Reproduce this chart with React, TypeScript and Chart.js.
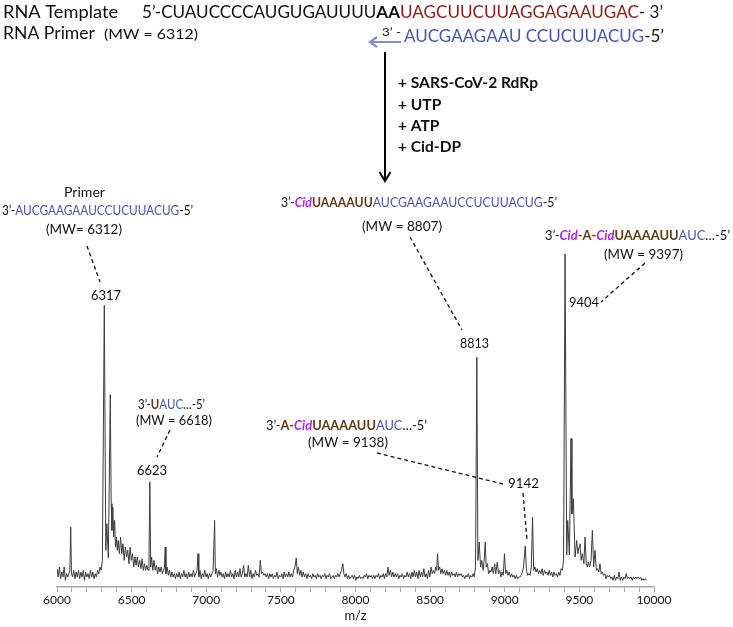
import { useEffect, useRef } from 'react';
import { Chart, registerables } from 'chart.js';
Chart.register(...registerables);

// ---------------- DATA ----------------
// spectrum segments: [m/z, relative intensity %]
const spectrum6000: number[][] = [
  [6000,5.5],[6008,3],[6016,6],[6024,2.5],[6032,4.5],[6040,3],[6048,6],[6056,2],[6064,4],[6072,3],[6080,4],[6086,5],[6092,18],[6097,4],[6104,3],[6112,5],[6120,2.5],[6128,4.5],[6136,3],[6144,5],[6152,2.5],[6160,4.5],[6168,3],[6176,5],[6184,2],[6192,4.5],[6200,3],[6208,4],[6216,2.5],[6224,5],[6232,3],[6240,4.5],[6248,2.5],[6256,4],[6264,3],[6272,5],[6280,4],[6288,6],[6296,5],[6304,8],
];
const spectrumPrimer: number[][] = [
  [6317,84.6],[6327,11],[6334,19],[6344,8.7],[6357,57.8],[6363,25],[6368,17],[6374,24],[6380,15],[6386,20],[6392,12],[6398,15],[6404,11],[6410,14],[6418,10],[6426,15],[6434,10],[6442,13],[6450,8],[6458,12],[6466,9],[6474,11],[6482,7],[6490,12],[6498,8],[6506,10],[6514,6],[6522,9],[6530,6.5],[6538,9],[6546,6],[6554,8],[6562,5.5],[6570,8.5],[6578,5],[6586,7],[6594,5],[6602,6.5],[6610,5],[6616,7],[6622,31.6],[6628,6],[6634,9],[6642,5],[6650,8],[6658,5],[6666,6.5],[6674,4],[6682,6],[6690,4.5],[6698,6],
];
const spectrum6700: number[][] = [
  [6706,4],[6714,5],[6720,6],[6725,12],[6730,4],[6738,6],[6746,3.5],[6754,5],[6762,3],[6770,4.5],[6778,3],[6786,4],[6794,2.5],[6802,4],[6810,3],[6818,4.5],[6826,2.5],[6834,4],[6842,3],[6850,5],[6858,3],[6866,4],[6874,2.5],[6882,4.5],[6890,3],[6898,4],[6906,3],[6914,5],[6922,3],[6930,4],[6938,5],[6945,10],[6950,3],[6958,5],[6966,2.5],[6974,4],[6982,3],[6990,5],[6998,3],[7006,4],[7014,2.5],[7022,4],[7030,3],[7038,4],[7046,5],[7056,20],[7061,4],[7068,5.5],[7076,3],[7084,5],[7092,3.5],[7098,4.5],
];
const spectrum7100: number[][] = [
  [7106,3],[7114,4],[7122,2.5],[7130,4.5],[7138,3],[7146,4],[7154,3],[7162,5],[7170,3],[7178,4],[7186,2.5],[7194,5],[7202,3],[7210,4.5],[7218,3],[7226,5.5],[7234,3],[7242,4],[7250,6.5],[7258,3],[7266,4],[7274,3],[7282,6.5],[7290,3],[7298,5],[7306,2.5],[7314,4],[7322,3],[7330,5],[7338,3.5],[7346,4],[7354,3],[7362,8],[7370,4],[7378,4.5],[7386,3.5],[7394,4],[7402,3],[7410,4],[7418,2.5],[7426,4],[7434,3],[7442,4],[7450,2.5],[7458,3.5],[7466,3],[7474,4.5],[7482,2.5],[7490,3.5],[7498,3],[7506,4],[7514,2.5],[7522,4.5],[7530,3],[7538,4],[7546,3],[7554,4.5],[7562,3],[7570,4],[7578,3],[7586,5],[7594,6],[7603,8.7],[7610,4],[7618,6],[7626,3.5],[7634,5],[7642,3],[7650,4.5],[7658,3],[7666,4],[7674,2.5],[7682,4],[7690,3],[7698,3.5],
];
const spectrum7700: number[][] = [
  [7706,2.5],[7714,4],[7722,3],[7730,3.5],[7738,2.5],[7746,4],[7754,3],[7762,3.5],[7770,2.5],[7778,3.5],[7786,3],[7794,4],[7802,2.5],[7810,3.5],[7818,3],[7826,4],[7834,2.5],[7842,3],[7850,3.5],[7858,2.5],[7866,3.5],[7874,3],[7882,4],[7890,3],[7898,4],[7906,5],[7915,7],[7922,4],[7930,3],[7938,4],[7946,2.5],[7954,3.5],[7962,2.5],[7970,3],[7978,3.5],[7986,2.5],[7994,3.5],[8002,2],[8010,3],[8018,2.5],[8026,3.5],[8034,2.5],[8042,3],[8050,2.5],[8058,3.5],[8066,3],[8074,4],[8082,2.5],[8090,3.5],[8098,3],[8106,3.5],[8114,2.5],[8122,3.5],[8130,2.5],[8138,3.5],[8146,3],[8154,4],[8162,2.5],[8170,3.5],[8178,3],[8186,4],[8194,2.5],[8202,4],[8210,3],[8218,6],[8226,3.5],[8234,5],[8242,3],[8250,4.5],[8258,3],[8266,4],[8274,3],[8282,4],[8290,2.5],[8298,3.5],
];
const spectrum8300: number[][] = [
  [8306,3],[8314,4],[8322,2.5],[8330,3.5],[8338,3],[8346,4.5],[8354,3],[8362,4],[8370,2.5],[8378,4.5],[8386,3],[8394,5],[8402,3],[8410,4.5],[8418,2.5],[8426,5],[8434,3],[8442,4.5],[8450,3],[8458,5.5],[8466,3],[8474,4],[8482,2.5],[8490,5],[8498,3],[8506,6],[8514,4],[8522,5],[8530,4],[8538,6],[8544,5],[8550,10],[8556,5],[8564,6],[8572,4],[8580,5.5],[8588,4],[8596,5],[8604,3.5],[8612,5],[8620,3.5],[8628,4.5],[8636,3],[8644,4.5],[8652,3.5],[8660,4],[8668,3],[8676,4.5],[8684,3],[8692,4],[8700,3.5],[8708,4],[8716,3],[8724,3.5],[8732,2.5],[8740,3.5],[8748,3],[8756,4],[8764,2.5],[8772,3.5],[8780,3],[8788,4],[8796,3],[8804,6],
];
const spectrum8800: number[][] = [
  [8813,69],[8820,8],[8829,13.5],[8838,6],[8846,8],[8855,5],[8862,8],[8869,13.5],[8876,6],[8884,7],[8892,4],[8900,5],[8908,4.5],[8916,6],[8924,4],[8932,7],[8940,4],[8950,7.5],[8958,4],[8966,5],[8974,3],[8982,4.5],[8990,3.5],[8998,10],[9006,4],[9014,5],[9022,3.5],[9030,4.5],[9038,3],[9046,4],[9054,3],[9062,3.5],[9070,2.5],[9078,3.5],[9086,2.5],[9094,3],[9102,3],[9110,3.5],[9118,4.5],[9126,6],[9137,12.3],[9146,5],[9154,3.5],[9162,4],[9170,3.5],[9178,6],[9186,21],[9194,5],[9202,6],[9210,4.5],[9218,5.5],[9226,4],[9234,5],[9242,4],[9250,5.5],[9258,3.5],[9266,5],[9274,4],[9282,4.5],[9290,3.5],[9298,5],[9306,3.5],[9314,4.5],[9322,3],[9330,4.5],[9338,3.5],[9346,4],[9354,3],[9362,4.5],[9370,3.5],[9378,5.5],[9386,5],[9394,8],
];
const spectrum9400: number[][] = [
  [9404,100],[9415,9.6],[9422,20],[9433,9.6],[9444,44.6],[9450,22],[9460,26.5],[9471,9],[9482,14],[9490,10],[9498,12],[9504,13],[9512,8],[9520,10],[9530,7],[9538,15],[9546,7],[9554,6],[9560,7.5],[9568,6],[9578,8],[9587,17],[9596,6],[9605,11],[9614,5],[9622,5.5],[9630,4.5],[9638,7],[9646,4],[9654,4.5],[9662,3.5],[9670,4],[9678,2.5],[9686,3.5],[9694,3],[9702,3.5],[9710,2.5],[9718,3],[9726,2],[9734,3.5],[9742,2],[9750,3],[9758,2.5],[9766,4.5],[9774,2],[9782,3],[9790,2],[9798,3],[9806,2.5],[9814,4],[9822,2.5],[9830,3],[9838,2.5],[9846,3],[9854,2],[9862,3],[9870,2.5],[9878,3],[9886,2.5],[9894,3],[9902,2.5],[9910,3],[9918,2],[9926,2.5],[9934,2],[9942,2.5],[9950,2],
];

const xMin = 6000;
const xMax = 10000;
const majorStep = 500;
const minorStep = 100;

// ---------------- STYLE ----------------
const FONT = 'Lato, "Open Sans", sans-serif';
const BLUE = '#4656b6';
const BROWN = '#5e3c10';
const MAGENTA = '#b020ee';
const RED = '#8e1b1b';
const ARROW_BLUE = '#7d8fd0';

type Run = { t: string; c?: string; b?: boolean; i?: boolean };
type Block = { runs: Run[]; size: number; x0: number; x1: number; y: number };

const Q = '\u2019';

const templateHead: Run[] = [{ t: `5${Q}-CUAUCCCCAUGUGAUUUU` }, { t: 'AA', b: true }];
const templateTail: Run[] = [{ t: 'UAGCUUCUUAGGAGAAUGAC', c: RED }, { t: `- 3${Q}` }];
const primerSeq: Run[] = [{ t: 'AUCGAAGAAU CCUCUUACUG', c: BLUE }, { t: `-5${Q}` }];
const conditions = ['+ SARS-CoV-2 RdRp', '+ UTP', '+ ATP', '+ Cid-DP'];

const blocks: Block[] = [
  { runs: [{ t: 'RNA Template' }], size: 17.5, x0: 3, x1: 118, y: 12 },
  { runs: [{ t: 'RNA Primer' }], size: 17.5, x0: 3, x1: 95, y: 33 },
  { runs: [{ t: '(MW = 6312)' }], size: 14, x0: 104, x1: 198, y: 34 },
  { runs: primerSeq, size: 17.5, x0: 404, x1: 664, y: 36 },
  { runs: [{ t: `3${Q} -` }], size: 11, x0: 382, x1: 401, y: 32 },
  // primer annotation
  { runs: [{ t: 'Primer' }], size: 13, x0: 64, x1: 105, y: 193 },
  { runs: [{ t: `3${Q}-` }, { t: 'AUCGAAGAAUCCUCUUACUG', c: BLUE }, { t: `-5${Q}` }], size: 13, x0: 2, x1: 193, y: 211 },
  { runs: [{ t: '(MW= 6312)' }], size: 13, x0: 46, x1: 122, y: 230 },
  { runs: [{ t: '6317' }], size: 13, x0: 91, x1: 121, y: 296 },
  // +Cid
  { runs: [{ t: `3${Q}-` }, { t: 'Cid', c: MAGENTA, b: true, i: true }, { t: 'UAAAAUU', c: BROWN, b: true }, { t: 'AUCGAAGAAUCCUCUUACUG', c: BLUE }, { t: `-5${Q}` }], size: 13, x0: 281, x1: 557, y: 203 },
  { runs: [{ t: '(MW = 8807)' }], size: 13, x0: 362, x1: 442, y: 227 },
  { runs: [{ t: '8813' }], size: 13, x0: 460, x1: 489, y: 344 },
  // Cid-A-Cid
  { runs: [{ t: `3${Q}-` }, { t: 'Cid', c: MAGENTA, b: true, i: true }, { t: '-A-', c: BROWN, b: true }, { t: 'Cid', c: MAGENTA, b: true, i: true }, { t: 'UAAAAUU', c: BROWN, b: true }, { t: 'AUC', c: BLUE }, { t: `\u2026-5${Q}` }], size: 13, x0: 545, x1: 730, y: 236 },
  { runs: [{ t: '(MW = 9397)' }], size: 13, x0: 604, x1: 683, y: 255 },
  { runs: [{ t: '9404' }], size: 13, x0: 569, x1: 599, y: 303 },
  // +U
  { runs: [{ t: `3${Q}-` }, { t: 'U', c: BROWN, b: true }, { t: 'AUC', c: BLUE }, { t: `\u2026-5${Q}` }], size: 13, x0: 138, x1: 205, y: 405 },
  { runs: [{ t: '(MW = 6618)' }], size: 13, x0: 136, x1: 212, y: 421 },
  { runs: [{ t: '6623' }], size: 13, x0: 137, x1: 167, y: 471 },
  // A-Cid
  { runs: [{ t: `3${Q}-` }, { t: 'A-', c: BROWN, b: true }, { t: 'Cid', c: MAGENTA, b: true, i: true }, { t: 'UAAAAUU', c: BROWN, b: true }, { t: 'AUC', c: BLUE }, { t: `\u2026-5${Q}` }], size: 13, x0: 266, x1: 427, y: 426 },
  { runs: [{ t: '(MW = 9138)' }], size: 13, x0: 308, x1: 388, y: 443 },
  { runs: [{ t: '9142' }], size: 13, x0: 508, x1: 539, y: 484 },
];

const leaders: number[][] = [
  [87, 246, 100, 282],
  [410, 237, 462, 330],
  [645, 263, 601, 302],
  [170, 430, 157, 457],
  [377, 453, 503, 484],
  [523, 493, 527, 540],
];

function fontOf(r: Run, size: number) {
  return `${r.i ? 'italic ' : ''}${r.b ? 'bold ' : ''}${size}px ${FONT}`;
}

function measureRuns(ctx: CanvasRenderingContext2D, runs: Run[], size: number) {
  return runs.map((r) => {
    ctx.font = fontOf(r, size);
    return ctx.measureText(r.t).width;
  });
}

function drawRunsScaled(ctx: CanvasRenderingContext2D, runs: Run[], size: number, x0: number, y: number, sx: number) {
  const ws = measureRuns(ctx, runs, size);
  ctx.save();
  ctx.translate(x0, y);
  ctx.scale(sx, 1);
  ctx.textBaseline = 'middle';
  ctx.textAlign = 'left';
  let cx = 0;
  runs.forEach((r, k) => {
    ctx.font = fontOf(r, size);
    ctx.fillStyle = r.c || '#111';
    ctx.fillText(r.t, cx, 0);
    cx += ws[k];
  });
  ctx.restore();
  return ws.reduce((a, b) => a + b, 0) * sx;
}

function drawRunsFit(ctx: CanvasRenderingContext2D, runs: Run[], size: number, x0: number, x1: number, y: number) {
  const total = measureRuns(ctx, runs, size).reduce((a, b) => a + b, 0);
  const sx = (x1 - x0) / total;
  drawRunsScaled(ctx, runs, size, x0, y, sx);
  return sx;
}

const annotationPlugin = {
  id: 'figureAnnotations',
  afterDraw(chart: Chart) {
    const ctx = chart.ctx;
    ctx.save();
    // template line
    const sx = drawRunsFit(ctx, templateHead, 17.5, 142, 400, 12);
    drawRunsScaled(ctx, templateTail, 17.5, 400, 12, sx);
    blocks.forEach((b) => drawRunsFit(ctx, b.runs, b.size, b.x0, b.x1, b.y));

    // primer direction arrow
    ctx.strokeStyle = ARROW_BLUE;
    ctx.lineWidth = 2.2;
    ctx.beginPath();
    ctx.moveTo(401, 42);
    ctx.lineTo(370, 42);
    ctx.moveTo(377, 37);
    ctx.lineTo(370, 42);
    ctx.lineTo(377, 47);
    ctx.stroke();

    // reaction arrow
    ctx.strokeStyle = '#000';
    ctx.lineWidth = 2;
    ctx.beginPath();
    ctx.moveTo(385, 52);
    ctx.lineTo(385, 181);
    ctx.moveTo(379.5, 172);
    ctx.lineTo(385, 181);
    ctx.lineTo(390.5, 172);
    ctx.stroke();

    // conditions
    const runs0: Run[] = [{ t: conditions[0], b: true }];
    const csx = drawRunsFit(ctx, runs0, 14.5, 398, 538, 83);
    conditions.slice(1).forEach((c, k) => {
      drawRunsScaled(ctx, [{ t: c, b: true }], 14.5, 398, 105 + k * 21, csx);
    });

    // leader lines
    ctx.strokeStyle = '#111';
    ctx.lineWidth = 1.3;
    ctx.setLineDash([4, 3]);
    leaders.forEach(([a, b, c, d]) => {
      ctx.beginPath();
      ctx.moveTo(a, b);
      ctx.lineTo(c, d);
      ctx.stroke();
    });
    ctx.setLineDash([]);
    ctx.restore();
  },
};

export default function App() {
  const ref = useRef<HTMLCanvasElement>(null);
  useEffect(() => {
    const canvas = ref.current;
    if (!canvas) return;
    const points = [
      ...spectrum6000, ...spectrumPrimer, ...spectrum6700, ...spectrum7100,
      ...spectrum7700, ...spectrum8300, ...spectrum8800, ...spectrum9400,
    ].map(([x, y]) => ({ x, y }));
    const chart = new Chart(canvas, {
      type: 'line',
      data: {
        datasets: [
          {
            data: points,
            borderColor: '#3c3c3c',
            borderWidth: 1,
            pointRadius: 0,
            tension: 0,
          },
        ],
      },
      options: {
        animation: false,
        responsive: false,
        devicePixelRatio: 1,
        layout: { padding: { left: 57, right: 79, top: 254, bottom: 0 } },
        plugins: { legend: { display: false }, tooltip: { enabled: false } },
        scales: {
          x: {
            type: 'linear',
            min: xMin,
            max: xMax,
            ticks: {
              stepSize: minorStep,
              autoSkip: false,
              maxRotation: 0,
              padding: 1,
              color: '#111',
              font: { family: FONT, size: 12 },
              callback: (v: any) => (Number(v) % majorStep === 0 ? String(v) : ''),
            },
            grid: { drawOnChartArea: false, drawTicks: true, tickLength: 5, color: '#a8a8a8' },
            border: { color: '#a8a8a8', width: 1.5 },
            title: {
              display: true,
              text: 'm/z',
              color: '#111',
              font: { family: FONT, size: 13 },
              padding: { top: 0, bottom: 3 },
            },
          },
          y: { display: false, min: 0, max: 100 },
        },
      },
      plugins: [annotationPlugin],
    });
    return () => chart.destroy();
  }, []);
  return (
    <div style={{ position: 'absolute', left: 0, top: 0, width: 733, height: 627, background: '#fff' }}>
      <canvas ref={ref} width={733} height={627} style={{ display: 'block' }} />
    </div>
  );
}
